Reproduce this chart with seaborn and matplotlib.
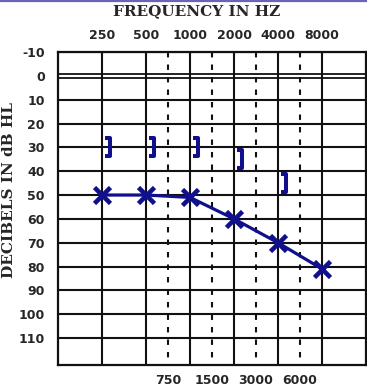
import numpy as np
import pandas as pd
import matplotlib
matplotlib.use("Agg")
import matplotlib.pyplot as plt
from matplotlib.path import Path
from matplotlib.lines import Line2D
from matplotlib.markers import MarkerStyle
import matplotlib.transforms as mtransforms
import seaborn as sns

# ---------------- data ----------------
octave_freqs = [250, 500, 1000, 2000, 4000, 8000]
half_freqs = [750, 1500, 3000, 6000]
db_ticks = [-10, 0, 10, 20, 30, 40, 50, 60, 70, 80, 90, 100, 110]

air_freqs = [250, 500, 1000, 2000, 4000, 8000]
air_db = [50, 50, 51, 60, 70, 81]

bone_freqs = [250, 500, 1000, 2000, 4000]
bone_db = [30, 30, 30, 35, 45]

title_text = "FREQUENCY IN HZ"
ylabel_text = "DECIBELS IN dB HL"

# ---------------- style ----------------
sns.set_style("white")
plt.rcParams["font.family"] = ["DejaVu Sans"]

BLUE = "#10108c"
GRID = "#111111"

W, H = 367, 389
fig = plt.figure(figsize=(W / 100, H / 100), dpi=100)
ax = fig.add_axes([58 / W, 1 - 365 / H, (366 - 58) / W, (365 - 52) / H])

# position on the audiogram: one unit per octave, linear between octaves
oct_idx = np.arange(len(octave_freqs), dtype=float)
def pos(f):
    return np.interp(f, octave_freqs, oct_idx)

ax.set_xlim(-1, len(octave_freqs))
ax.set_ylim(121.3, -10)

# grid
ax.vlines(pos(octave_freqs), -10, 121.3, colors=GRID, lw=1.5, zorder=1)
ax.vlines(pos(half_freqs), -10, 121.3, colors=GRID, lw=1.5,
          linestyles=(0, (2.6, 3.4)), zorder=1)
for d in db_ticks:
    if d == 0:
        ax.hlines([d - 0.8, d + 0.8], -1, len(octave_freqs), colors=GRID, lw=1.3, zorder=1)
    else:
        ax.hlines(d, -1, len(octave_freqs), colors=GRID, lw=1.5, zorder=1)

for s in ax.spines.values():
    s.set_visible(True)
    s.set_color(GRID)
    s.set_linewidth(1.6)

# air conduction
air_df = pd.DataFrame({"x": pos(air_freqs), "db": air_db})
sns.lineplot(data=air_df, x="x", y="db", ax=ax, color=BLUE, lw=2.3,
             marker="x", markersize=11, markeredgewidth=3.3,
             markeredgecolor=BLUE, zorder=3, sort=False)

# bone conduction brackets
bracket = Path([(-0.55, 1), (0, 1), (0, -1), (-0.55, -1)],
               [Path.MOVETO, Path.LINETO, Path.LINETO, Path.LINETO])
bone_df = pd.DataFrame({"x": pos(bone_freqs), "db": bone_db})
offset = mtransforms.offset_copy(ax.transData, fig=fig, x=6.0, y=0, units="points")
sns.lineplot(data=bone_df, x="x", y="db", ax=ax, color=BLUE, linestyle="none",
             marker=MarkerStyle(bracket), markersize=13.5, markeredgewidth=2.9,
             markeredgecolor=BLUE, markerfacecolor="none", zorder=3,
             transform=offset, sort=False)

# ticks
ax.xaxis.tick_top()
ax.set_xticks(pos(octave_freqs), [str(f) for f in octave_freqs])
ax.tick_params(axis="x", length=0, pad=7.5)
for t in ax.get_xticklabels():
    t.set_fontweight("bold")
    t.set_fontsize(9)

sec = ax.secondary_xaxis("bottom")
sec.set_xticks(pos(half_freqs), [str(f) for f in half_freqs])
sec.tick_params(axis="x", length=0, pad=6.5)
sec.spines["bottom"].set_visible(False)
for t in sec.get_xticklabels():
    t.set_fontweight("bold")
    t.set_fontsize(9)

ax.set_yticks(db_ticks, [str(d) for d in db_ticks])
ax.tick_params(axis="y", length=0, pad=9.5)
for t in ax.get_yticklabels():
    t.set_fontweight("bold")
    t.set_fontsize(9)

ax.set_xlabel("")
ax.set_ylabel("")

# titles
fig.text(197 / W, 1 - 15.5 / H, title_text, ha="center", va="baseline",
         fontsize=11, fontweight="bold", family=["DejaVu Serif"])
fig.text(9 / W, 1 - 190 / H, ylabel_text, ha="center", va="center", rotation=90,
         fontsize=11, fontweight="bold", family=["DejaVu Serif"])

# slide border line at top
fig.add_artist(Line2D([0, 1], [1 - 1 / H, 1 - 1 / H], transform=fig.transFigure,
                      color="#6a64b4", lw=1.6))

fig.savefig("out.png", dpi=100)
